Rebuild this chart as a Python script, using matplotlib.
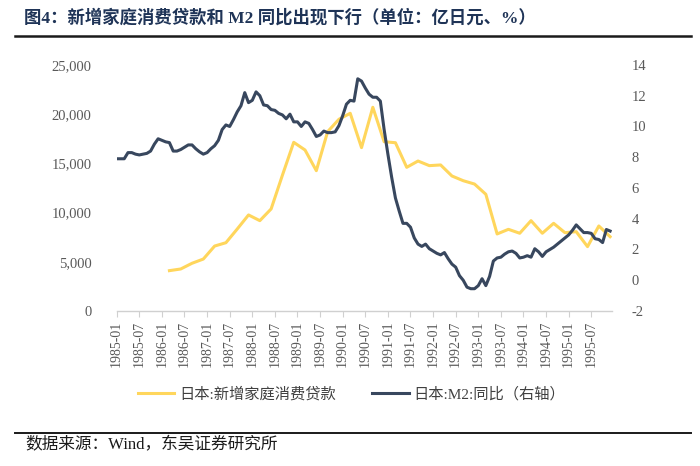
import matplotlib
matplotlib.use('Agg')
import matplotlib.pyplot as plt
from matplotlib.lines import Line2D
from matplotlib.ticker import FuncFormatter
import pandas as pd

plt.rcParams['font.family'] = ['Liberation Serif', 'Noto Sans CJK SC']
plt.rcParams['axes.unicode_minus'] = False

# monthly categories 1985-01 .. 1995-12
months = pd.date_range('1985-01-01', '1995-12-01', freq='MS').strftime('%Y-%m').tolist()

# Japan M2 yoy (%), monthly, right axis
m2_yoy = [
    7.9, 7.9, 7.9, 8.3, 8.3, 8.2, 8.15, 8.2, 8.25, 8.4,
    8.85, 9.2, 9.1, 9.0, 8.95, 8.4, 8.4, 8.5, 8.65, 8.8,
    8.8, 8.55, 8.35, 8.2, 8.3, 8.55, 8.75, 9.1, 9.8, 10.1,
    10.0, 10.45, 10.95, 11.35, 12.2, 11.55, 11.7, 12.25, 12.0, 11.4,
    11.35, 11.1, 11.05, 10.85, 10.75, 10.5, 10.8, 10.3, 10.3, 10.0,
    10.3, 10.2, 9.8, 9.35, 9.45, 9.7, 9.6, 9.6, 9.65, 10.05,
    10.7, 11.45, 11.7, 11.65, 13.1, 12.95, 12.5, 12.1, 11.9, 11.9,
    11.65, 9.8, 8.2, 6.7, 5.35, 4.5, 3.7, 3.7, 3.45, 2.75,
    2.35, 2.2, 2.35, 2.05, 1.9, 1.75, 1.65, 1.8, 1.4, 1.05,
    0.85, 0.3, 0.0, -0.45, -0.55, -0.55, -0.35, 0.1, -0.35, 0.25,
    1.25, 1.45, 1.5, 1.7, 1.85, 1.9, 1.75, 1.45, 1.5, 1.6,
    1.5, 2.05, 1.85, 1.55, 1.85, 2.0, 2.15, 2.35, 2.55, 2.75,
    2.95, 3.25, 3.6, 3.35, 3.1, 3.1, 3.05, 2.7, 2.65, 2.45,
    3.3, 3.2,
]

# new household consumer loans (100m yen), quarterly from 1986-03
loan_months = months[14::3]
consumer_loans = [
    4100, 4270, 4850, 5280, 6600, 6940, 8330, 9760,
    9180, 10370, 13800, 17140, 16360, 14260, 18220, 19480,
    20090, 16600, 20700, 17200, 17100, 14600, 15240, 14770,
    14840, 13720, 13240, 12900, 11860, 7830, 8300, 7900,
    9180, 7900, 8910, 7960, 8060, 6540, 8640, 7550,
]

yellow = '#FFD65C'
navy = '#38475E'
label_gray = '#595959'

fig = plt.figure(figsize=(7, 4.66), dpi=100)
ax = fig.add_axes([0.1667, 0.3326, 0.7076, 0.528])
ax2 = ax.twinx()

x_all = list(range(len(months)))
x_loan = [months.index(m) for m in loan_months]

ax.plot(x_loan, consumer_loans, color=yellow, lw=2.2, solid_joinstyle='round')
ax2.plot(x_all, m2_yoy, color=navy, lw=2.2, solid_joinstyle='round')

ax.set_xlim(0, 131.5)
ax.set_ylim(0, 25000)
ax2.set_ylim(-2, 14)
ax.set_yticks(range(0, 25001, 5000))
ax2.set_yticks(range(-2, 15, 2))
ax.yaxis.set_major_formatter(FuncFormatter(lambda v, p: f'{int(v):,}'))

ax.set_xticks(x_all[::6])
ax.set_xticklabels(months[::6], rotation=90, fontsize=10, color=label_gray)

for a in (ax, ax2):
    for s in ('top', 'left', 'right', 'bottom'):
        a.spines[s].set_visible(False)
ax.spines['bottom'].set_visible(True)
ax.spines['bottom'].set_color('#D0D0D0')
ax.spines['bottom'].set_linewidth(1)

ax.tick_params(axis='x', direction='out', length=4, color='#D0D0D0', pad=3)
ax.tick_params(axis='y', length=0, labelsize=10.5, labelcolor=label_gray, pad=18)
ax2.tick_params(axis='y', length=0, labelsize=10.5, labelcolor=label_gray, pad=14)

# legend
handles = [Line2D([], [], color=yellow, lw=2.2), Line2D([], [], color=navy, lw=2.2)]
fig.legend(handles, ['日本:新增家庭消费贷款', '日本:M2:同比（右轴）'],
           loc='center', bbox_to_anchor=(0.502, 0.155), ncol=2, frameon=False,
           fontsize=11, handlelength=2.4, handletextpad=0.3, columnspacing=2.4,
           labelcolor='#404040')

# title, rules, source
fig.text(0.034, 0.962, '图4：新增家庭消费贷款和 M2 同比出现下行（单位：亿日元、%）',
         fontsize=12.5, fontweight='bold', color='#1F3457', va='center', ha='left')
fig.add_artist(Line2D([0.022, 0.987], [0.923, 0.923], color='#1a1a1a', lw=1.8))
fig.add_artist(Line2D([0.022, 0.987], [0.0715, 0.0715], color='#1a1a1a', lw=1.4))
fig.text(0.036, 0.045, '数据来源：Wind，东吴证券研究所', fontsize=12,
         color='#1a1a1a', va='center', ha='left')

fig.savefig('out.png', dpi=100)
